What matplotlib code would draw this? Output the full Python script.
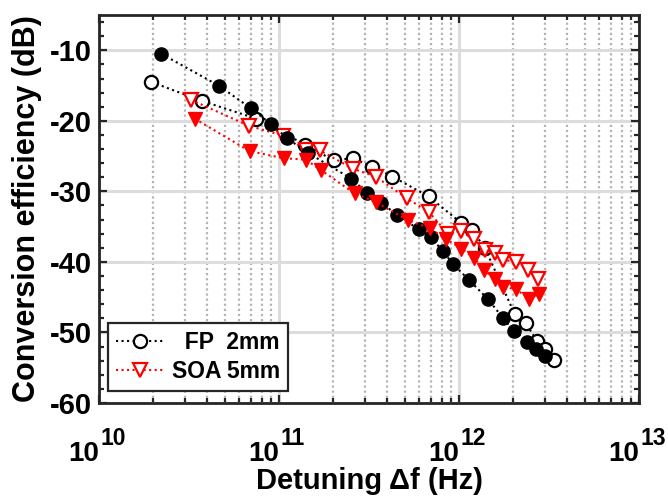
import numpy as np
import matplotlib
matplotlib.use("Agg")
import matplotlib.pyplot as plt
from matplotlib.ticker import FixedLocator, NullFormatter, MultipleLocator

# Data (detuning in Hz, efficiency in dB)
fp_open_f = [1.955e10, 3.75e10, 7.49e10, 1.40e11, 2.01e11, 2.58e11, 3.29e11, 4.26e11,
             6.77e11, 1.03e12, 1.184e12, 1.39e12, 2.04e12, 2.35e12, 2.71e12, 3.02e12, 3.36e12]
fp_open_ce = [-14.5, -17.2, -19.7, -23.4, -25.6, -25.3, -26.5, -27.9,
              -30.7, -34.5, -35.5, -38.0, -47.4, -48.7, -51.2, -52.4, -53.9]

fp_fill_f = [2.22e10, 4.62e10, 6.96e10, 9.08e10, 1.113e11, 1.44e11, 2.52e11, 3.08e11,
             3.71e11, 4.54e11, 5.96e11, 6.95e11, 8.11e11, 9.26e11, 1.13e12, 1.44e12,
             1.75e12, 2.02e12, 2.39e12, 2.69e12, 2.99e12]
fp_fill_ce = [-10.5, -15.0, -18.2, -20.5, -22.5, -24.5, -28.2, -30.2,
              -31.7, -33.3, -35.4, -36.5, -38.4, -40.3, -42.5, -45.2,
              -47.9, -49.8, -51.3, -52.4, -53.4]

soa_open_f = [3.23e10, 6.79e10, 1.053e11, 1.416e11, 1.69e11, 2.58e11, 3.44e11, 5.14e11,
              6.79e11, 8.69e11, 1.022e12, 1.207e12, 1.39e12, 1.58e12, 1.755e12, 2.08e12,
              2.42e12, 2.75e12]
soa_open_ce = [-17.0, -20.7, -22.1, -24.1, -24.2, -26.8, -27.9, -31.0,
               -32.9, -36.0, -35.6, -36.8, -38.3, -38.7, -39.7, -40.0,
               -41.2, -42.4]

soa_fill_f = [3.40e10, 6.88e10, 1.062e11, 1.407e11, 1.716e11, 2.63e11, 3.44e11, 5.19e11,
              6.87e11, 8.51e11, 1.031e12, 1.207e12, 1.38e12, 1.58e12, 1.755e12, 2.08e12,
              2.45e12, 2.79e12]
soa_fill_ce = [-19.7, -24.3, -25.3, -25.5, -27.0, -30.3, -31.5, -34.1,
               -35.2, -36.8, -38.1, -39.4, -41.2, -42.4, -43.5, -43.9,
               -45.2, -44.5]

legend_labels = ["  FP  2mm", "SOA 5mm"]
x_ticks = [1e10, 1e11, 1e12, 1e13]
x_exponents = ["10", "11", "12", "13"]
y_ticks = [-60, -50, -40, -30, -20, -10]

plt.rcParams["font.family"] = ["Liberation Sans", "DejaVu Sans"]
plt.rcParams["font.weight"] = "bold"
plt.rcParams["axes.unicode_minus"] = False

fig = plt.figure(figsize=(6.68, 4.97), dpi=100)
ax = fig.add_axes([0.1482, 0.1891, 0.8084, 0.7807])

lw = 1.5
ms = 9.5
ax.plot(fp_open_f, fp_open_ce, ':', color='black', lw=lw, marker='o', ms=ms,
        mfc='white', mec='black', mew=1.6, label=legend_labels[0], zorder=3)
ax.plot(soa_open_f, soa_open_ce, ':', color='red', lw=lw, marker='v', ms=ms + 0.5,
        mfc='white', mec='red', mew=1.6, label=legend_labels[1], zorder=3)
ax.plot(fp_fill_f, fp_fill_ce, ':', color='black', lw=lw, marker='o', ms=ms,
        mfc='black', mec='black', zorder=3)
ax.plot(soa_fill_f, soa_fill_ce, ':', color='red', lw=lw, marker='v', ms=ms + 0.5,
        mfc='red', mec='red', zorder=3)

ax.set_xscale('log')
ax.set_xlim(1e10, 1e13)
ax.set_ylim(-60, -5)
ax.set_xticks(x_ticks)
ax.set_xticklabels([])
ax.xaxis.set_minor_locator(FixedLocator(
    [m * 10.0 ** e for e in range(10, 13) for m in range(2, 10)]))
ax.xaxis.set_minor_formatter(NullFormatter())
ax.set_yticks(y_ticks)
ax.yaxis.set_minor_locator(MultipleLocator(2))

# MATLAB-style "10^n" labels: base ends at the tick, exponent starts there
xform = ax.get_xaxis_transform()
for t, e in zip(x_ticks, x_exponents):
    ax.annotate("10", xy=(t, 0), xycoords=xform, xytext=(0, -41.5), textcoords='offset points',
                ha='right', va='baseline', fontsize=20, fontweight='bold')
    ax.annotate(e, xy=(t, 0), xycoords=xform, xytext=(1, -30.5), textcoords='offset points',
                ha='left', va='baseline', fontsize=16.5, fontweight='bold')

ax.grid(True, which='major', color='#dcdcdc', lw=2.2, ls='-', zorder=0)
ax.grid(True, which='minor', axis='x', color='#b4b4b4', lw=1.6, ls=(0, (1, 1.3)), zorder=0)
ax.set_axisbelow(True)

for sp in ax.spines.values():
    sp.set_linewidth(2.0)
    sp.set_color('#262626')
ax.tick_params(which='both', direction='in', top=True, right=True, color='#262626',
               width=1.6)
ax.tick_params(axis='y', labelsize=21, pad=5)
ax.tick_params(which='major', length=6)
ax.tick_params(which='minor', length=3.5)

ax.set_xlabel("Detuning \u0394f (Hz)", fontsize=21, fontweight='bold')
ax.xaxis.set_label_coords(0.5, -0.166)
ax.xaxis.label.set_va('top')
ax.set_ylabel("Conversion efficiency (dB)", fontsize=22, fontweight='bold')
ax.yaxis.set_label_coords(-0.106, 0.5)

leg = ax.legend(loc='lower left', bbox_to_anchor=(0.016, 0.032), fontsize=16.5,
                frameon=True, fancybox=False, framealpha=1, edgecolor='#262626',
                handlelength=2.1, handletextpad=0.35, borderpad=0.35, labelspacing=0.25,
                borderaxespad=0.0)
leg.get_frame().set_linewidth(1.6)

fig.savefig("out.png", dpi=100)
